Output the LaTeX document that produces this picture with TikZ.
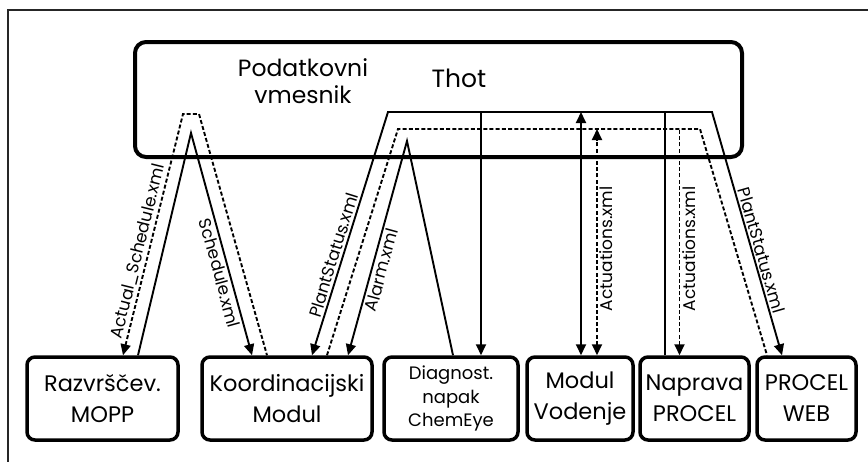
\documentclass[tikz,border=0pt]{standalone}
\usepackage{fontspec}
\setmainfont{Poppins}
\usetikzlibrary{arrows.meta}
\begin{document}
\begin{tikzpicture}[x=1pt,y=-1pt,
  >={Triangle[length=11pt,width=10pt]},
  modbox/.style={draw, line width=3.5pt, rounded corners=8pt, minimum height=83pt, inner sep=0pt, align=center, font=\fontsize{22.5}{31}\selectfont},
  conn/.style={line width=1.9pt},
  dconn/.style={line width=1.9pt, dash pattern=on 4pt off 2.2pt},
  lbl/.style={font=\fontsize{17}{17}\selectfont, inner sep=2pt, sloped}
]
\useasboundingbox (0,0) rectangle (868,461);
% outer frame
\draw[line width=1.3pt, black!85] (8,470) -- (8,10) -- (880,10);
% Thot box
\node[draw, line width=4pt, rounded corners=11pt, minimum width=607pt, minimum height=115pt] (thot) at (438.5,99.5) {};
\node[align=center, font=\fontsize{23.5}{27}\selectfont] (pv) at (303,81) {Podatkovni\\vmesnik};
\node[font=\fontsize{25}{25}\selectfont] (th) at (459,78) {Thot};
% modules
\node[modbox, minimum width=151pt] (razv) at (102.5,398.5) {Razvrščev.\\MOPP};
\node[modbox, minimum width=170pt] (koord) at (287,398.5) {Koordinacijski\\Modul};
\node[modbox, minimum width=134pt, font=\fontsize{18}{23.5}\selectfont] (diag) at (451,398.5) {Diagnost.\\napak\\ChemEye};
\node[modbox, minimum width=106pt] (vod) at (580,398.5) {Modul\\Vodenje};
\node[modbox, minimum width=109pt] (napr) at (694.5,398.5) {Naprava\\PROCEL};
\node[modbox, minimum width=99pt] (web) at (806.5,398.5) {PROCEL\\WEB};
% coordinates inside the Thot box
\coordinate (asL) at (183,114);
\coordinate (asR) at (199,114);
\coordinate (sA) at (191,133);
\coordinate (pTL) at (388,112);
\coordinate (pTR) at (712,112);
\coordinate (pD) at (481,112);
\coordinate (pV) at (581,112);
\coordinate (pN) at (665,112);
\coordinate (aTL) at (398,129);
\coordinate (aTR) at (700,129);
\coordinate (aV) at (597,129);
\coordinate (aN) at (679.5,129);
\coordinate (alA) at (407,141);
% Actual_Schedule.xml
\draw[dconn, <-] ([xshift=20.5pt]razv.north) -- node[lbl, pos=0.42, above] {Actual\_Schedule.xml} (asL) -- (asR) -- ([xshift=-20pt]koord.north);
% Schedule.xml
\draw[conn, ->] ([xshift=35.5pt]razv.north) -- (sA) -- node[lbl, pos=0.62, below] {Schedule.xml} ([xshift=-35pt]koord.north);
% PlantStatus.xml
\draw[conn, <->] ([xshift=25pt]koord.north) -- node[lbl, pos=0.40, above] {PlantStatus.xml} (pTL) -- (pTR) -- node[lbl, pos=0.58, above] {PlantStatus.xml} ([xshift=-24.5pt]web.north);
\draw[conn] ([xshift=-29.5pt]napr.north) -- (pN);
\draw[conn, ->] (pD) -- ([xshift=30pt]diag.north);
\draw[conn, <->] ([xshift=1pt]vod.north) -- (pV);
% Actuations.xml
\draw[dconn] ([xshift=40pt]koord.north) -- (aTL) -- (aTR) -- ([xshift=-39.5pt]web.north);
\draw[dconn, <->] ([xshift=17pt]vod.north) -- node[lbl, pos=0.47, below] {Actuations.xml} (aV);
\draw[dconn, <-] ([xshift=-15pt]napr.north) -- node[lbl, pos=0.47, below] {Actuations.xml} (aN);
% Alarm.xml
\draw[conn, <-] ([xshift=61pt]koord.north) -- node[lbl, pos=0.41, below] {Alarm.xml} (alA) -- ([xshift=2pt]diag.north);
\end{tikzpicture}
\end{document}
